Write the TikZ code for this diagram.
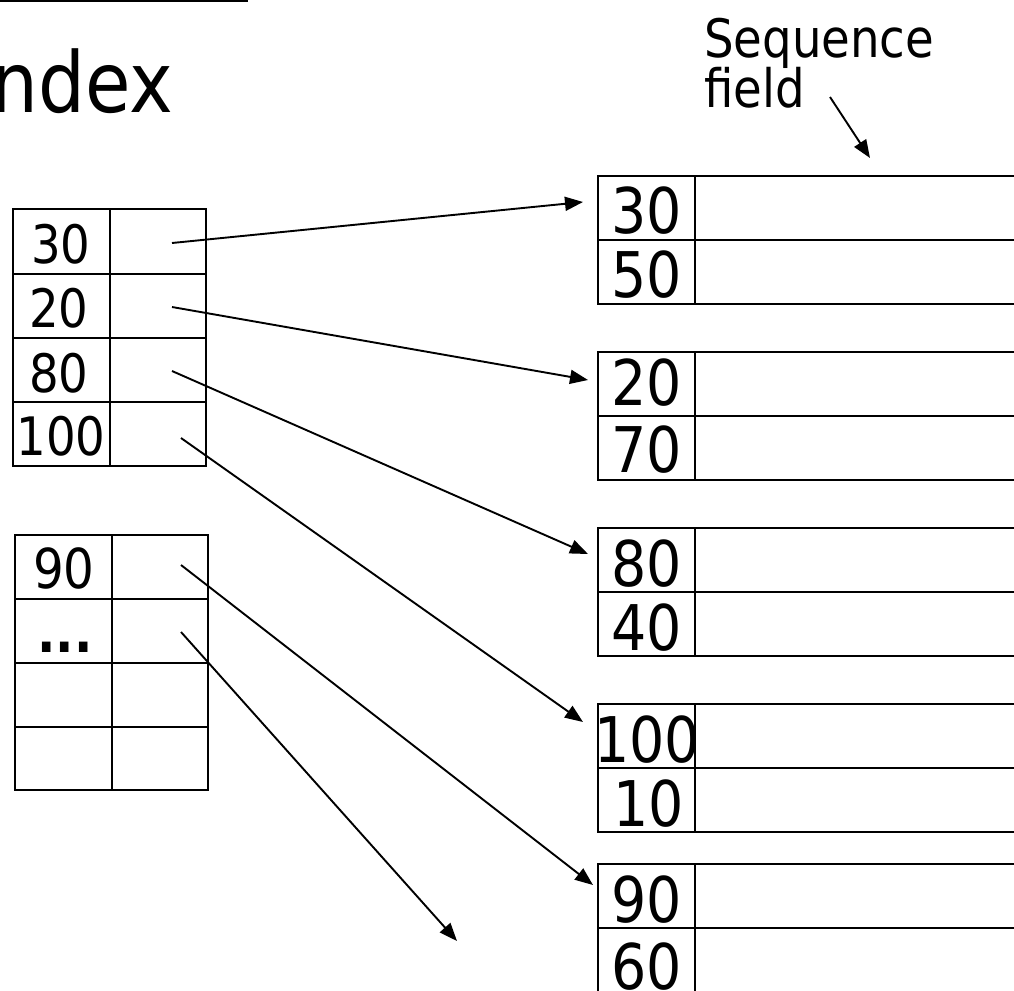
\documentclass[tikz,border=0pt]{standalone}
\usepackage{fontspec}
\setmainfont[FakeStretch=0.88]{DejaVu Sans}
\usetikzlibrary{arrows.meta}
\begin{document}
\begin{tikzpicture}[x=1pt,y=-1pt]
\tikzset{
  grid/.style={line width=2.2pt},
  ptr/.style={line width=1.9pt, -{Triangle[length=18pt,width=14pt]}},
  lbl/.style={inner sep=0pt, anchor=base},
  fmid/.style={font=\fontsize{53}{62}\selectfont},
  fbig/.style={font=\fontsize{63}{74}\selectfont},
}
\useasboundingbox (0,0) rectangle (1014,990);
\clip (0,0) rectangle (1014,990);
\fill[white] (0,0) rectangle (1014,990);

% title
\draw[line width=3pt] (0,1) -- (248,1);
\node[lbl, anchor=base west, font=\fontsize{84}{100}\selectfont] (title) at (-9,112) {ndex};

% sequence field label
\node[lbl, anchor=base west, font=\fontsize{53}{62}\selectfont] (seq) at (704,57) {Sequence};
\node[lbl, anchor=base west, font=\fontsize{53}{62}\selectfont] (fld) at (704,107) {field};
\coordinate (seqS) at (830,97);
\coordinate (seqE) at (870,158);

% left index table 1
\draw[grid] (13,209) rectangle (206,466);
\draw[grid] (110,209) -- (110,466);
\foreach \y in {274,338,402} \draw[grid] (13,\y) -- (206,\y);
\node[lbl, fmid] (k30) at (61,263) {30};
\node[lbl, fmid] (k20) at (59,327) {20};
\node[lbl, fmid] (k80) at (59,392) {80};
\node[lbl, fmid] (k100) at (61,455) {100};
\coordinate (p30) at (172,243);
\coordinate (p20) at (172,307);
\coordinate (p80) at (172,371);
\coordinate (p100) at (181,438);

% left index table 2
\draw[grid] (15,535) rectangle (208,790);
\draw[grid] (112,535) -- (112,790);
\foreach \y in {599,663,727} \draw[grid] (15,\y) -- (208,\y);
\node[lbl, font=\fontsize{55}{64}\selectfont] (k90) at (64,588) {90};
\node[lbl, font=\fontsize{55}{64}\bfseries\selectfont] (kdots) at (65,652) {...};
\coordinate (p90) at (181,565);
\coordinate (pdots) at (181,632);
\coordinate (edots) at (457,941);

% data blocks
\foreach \t/\m/\b in {176/240/304, 352/416/480, 528/592/656, 704/768/832, 864/928/1000} {
  \draw[grid] (1020,\t) -- (598,\t) -- (598,\b) -- (1020,\b);
  \draw[grid] (598,\m) -- (1020,\m);
  \draw[grid] (695,\t) -- (695,\b);
}
\node[lbl, fbig] (r30) at (647,233) {30};
\node[lbl, fbig] (r50) at (647,297) {50};
\node[lbl, fbig] (r20) at (647,405) {20};
\node[lbl, fbig] (r70) at (647,472) {70};
\node[lbl, fbig] (r80) at (647,586) {80};
\node[lbl, fbig] (r40) at (647,650) {40};
\node[lbl, fbig, anchor=base west] (r100) at (594,762) {100};
\node[lbl, fbig] (r10) at (649,826) {10};
\node[lbl, fbig] (r90) at (647,922) {90};
\node[lbl, fbig] (r60) at (647,989) {60};

\coordinate (d30) at (583,202);
\coordinate (d20) at (588,380);
\coordinate (d80) at (588,554);
\coordinate (d100) at (583,722);
\coordinate (d90) at (593,885);

% pointers
\draw[ptr] (p30) -- (d30);
\draw[ptr] (p20) -- (d20);
\draw[ptr] (p80) -- (d80);
\draw[ptr] (p100) -- (d100);
\draw[ptr] (p90) -- (d90);
\draw[ptr] (pdots) -- (edots);
\draw[ptr] (seqS) -- (seqE);
\end{tikzpicture}
\end{document}
